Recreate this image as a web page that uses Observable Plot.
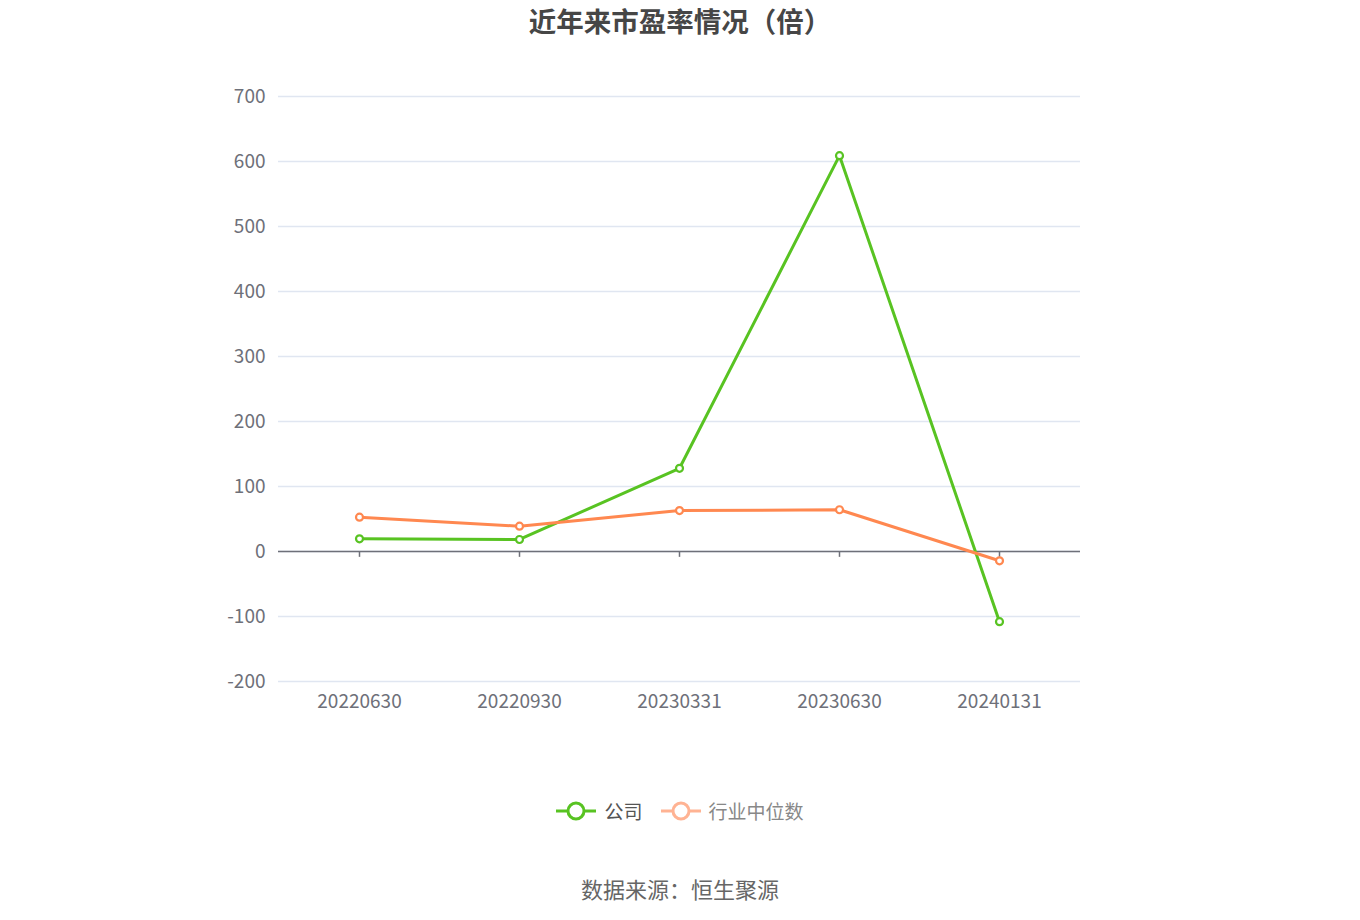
<!DOCTYPE html>
<html><head><meta charset="utf-8">
<script src="https://cdn.jsdelivr.net/npm/d3@7"></script>
<script src="https://cdn.jsdelivr.net/npm/@observablehq/plot@0.6"></script>
<style>
body{margin:0;background:#fff;font-family:"Noto Sans CJK SC","Noto Sans",sans-serif;}
#wrap{position:relative;width:1360px;height:920px;overflow:hidden;}
#title{position:absolute;top:3px;left:0;width:1360px;text-align:center;font-size:27.5px;line-height:34px;font-weight:bold;color:#464646;}
#chart{position:absolute;top:0;left:0;}
#legend{position:absolute;top:796px;left:0;width:1360px;display:flex;justify-content:center;align-items:center;font-size:19px;line-height:30px;}
.item{display:flex;align-items:center;margin:0 9px;}
.item svg{margin-right:8px;}
#caption{position:absolute;top:872px;left:0;width:1360px;text-align:center;font-size:22px;line-height:32px;color:#666;}
</style></head>
<body><div id="wrap">
<div id="title">近年来市盈率情况（倍）</div>
<div id="chart"></div>
<div id="legend"></div>
<div id="caption">数据来源：恒生聚源</div>
</div>
<script>
const dates = ["20220630","20220930","20230331","20230630","20240131"];
const company = [19.5, 18.5, 128, 609, -108];
const industry = [52.8, 38.9, 63, 64.2, -14.3];
const seriesNames = ["公司","行业中位数"];
const seriesColors = ["#58c322","#ff8850"];
const yTicks = [-200,-100,0,100,200,300,400,500,600,700];

const rows = [
  ...dates.map((d,i)=>({date:d, value:company[i], series:seriesNames[0]})),
  ...dates.map((d,i)=>({date:d, value:industry[i], series:seriesNames[1]}))
];

const chart = Plot.plot({
  width:1360, height:760,
  marginLeft:278, marginRight:280, marginTop:96, marginBottom:79,
  style:{fontSize:"19px", fontFamily:'"Noto Sans CJK SC","Noto Sans",sans-serif', color:"#6E7079", background:"transparent"},
  x:{type:"point", domain:dates, padding:0.5, label:null},
  y:{domain:[-200,700], label:null},
  color:{domain:seriesNames, range:seriesColors},
  marks:[
    Plot.gridY(yTicks, {stroke:"#E0E6F1", strokeOpacity:1, strokeWidth:1.5}),
    Plot.axisY(yTicks, {tickSize:0, tickPadding:13, fill:"#6E7079", label:null, tickFormat:d=>String(d)}),
    Plot.axisX({tickSize:0, tickPadding:13, fill:"#6E7079", label:null}),
    Plot.ruleY([0], {stroke:"#6E7079", strokeWidth:1.5}),
    Plot.ruleX(dates, {x:d=>d, y1:0, y2:-9, stroke:"#6E7079", strokeWidth:1.5}),
    Plot.line(rows, {x:"date", y:"value", z:"series", stroke:"series", strokeWidth:3}),
    Plot.dot(rows, {x:"date", y:"value", stroke:"series", fill:"white", r:3.5, strokeWidth:2.2})
  ]
});
document.getElementById("chart").appendChild(chart);

const legend = document.getElementById("legend");
const legendStyles = [{icon:seriesColors[0], text:"#555"},{icon:"#ffb393", text:"#888"}];
seriesNames.forEach((name,i)=>{
  const s = legendStyles[i];
  const item = document.createElement("div");
  item.className = "item";
  item.innerHTML = `<svg width="40" height="22"><line x1="0" y1="11" x2="40" y2="11" stroke="${s.icon}" stroke-width="3"/><circle cx="20" cy="11" r="8" fill="#fff" stroke="${s.icon}" stroke-width="3"/></svg><span style="color:${s.text}">${name}</span>`;
  legend.appendChild(item);
});
</script>
</body></html>
